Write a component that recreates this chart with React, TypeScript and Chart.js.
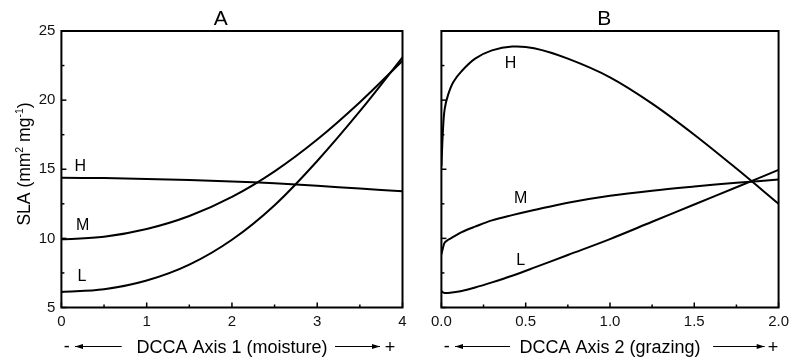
import React, { useEffect, useRef } from "react";
import { Chart, registerables } from "chart.js";

Chart.register(...registerables);

const FONT = "Arial, 'Liberation Sans', Helvetica, sans-serif";

// ---------- Panel A : DCCA Axis 1 (moisture) ----------
const xA = [0, 0.5, 1, 1.5, 2, 2.5, 3, 3.5, 4];
const hA = [14.38, 14.36, 14.3, 14.22, 14.12, 13.98, 13.8, 13.6, 13.4];
const mA = [9.93, 10.12, 10.68, 11.62, 13.0, 14.85, 17.15, 19.85, 22.85];
const lA = [6.13, 6.32, 6.95, 8.1, 9.9, 12.4, 15.6, 19.2, 23.1];

// ---------- Panel B : DCCA Axis 2 (grazing) ----------
const xB = [0, 0.01, 0.02, 0.04, 0.07, 0.12, 0.2, 0.3, 0.42, 0.55, 0.75, 1.0, 1.25, 1.5, 1.75, 2.0];
const hB = [15.2, 18.0, 19.4, 20.4, 21.3, 22.1, 23.0, 23.6, 23.87, 23.75, 23.0, 21.65, 19.75, 17.5, 15.05, 12.5];
const mB = [8.85, 9.35, 9.7, 9.9, 10.1, 10.45, 10.85, 11.3, 11.68, 12.05, 12.58, 13.08, 13.45, 13.75, 14.02, 14.25];
const lB = [6.2, 6.1, 6.05, 6.05, 6.1, 6.2, 6.45, 6.82, 7.3, 7.88, 8.8, 9.95, 11.2, 12.45, 13.7, 14.95];

const seriesNames = ["H", "M", "L"];

// curve label anchors, in data units
const labelPosA = [[0.22, 15.2], [0.25, 10.9], [0.24, 7.2]];
const labelPosB = [[0.41, 22.67], [0.47, 12.9], [0.47, 8.37]];

// axis ranges / ticks
const yMin = 5;
const yMax = 25;
const yStep = 2.5;
const xAMax = 4;
const xAStep = 0.5;
const xBMax = 2;
const xBStep = 0.25;

type PanelCfg = {
  title: string;
  titleX: number;
  xLabel: string;
  xs: number[];
  series: number[][];
  labels: number[][];
  xMax: number;
  xStep: number;
  isMajorX: (v: number) => boolean;
  fmtX: (v: number) => string;
  showYLabels: boolean;
  yWidth: number;
  padRight: number;
  canvasW: number;
  canvasLeft: number;
  minusDx: number;
  arrowL: [number, number];
  arrowR: [number, number];
  plusDx: number;
  yTitle: boolean;
};

const isMajorY = (v: number) => Math.abs(v / 5 - Math.round(v / 5)) < 1e-9;

function drawArrow(ctx: CanvasRenderingContext2D, x0: number, x1: number, y: number, tipAtStart: boolean) {
  ctx.beginPath();
  ctx.lineWidth = 1.2;
  ctx.moveTo(x0, y);
  ctx.lineTo(x1, y);
  ctx.stroke();
  const tip = tipAtStart ? x0 : x1;
  const dir = tipAtStart ? 1 : -1;
  ctx.beginPath();
  ctx.moveTo(tip, y);
  ctx.lineTo(tip + dir * 8, y - 2.6);
  ctx.lineTo(tip + dir * 8, y + 2.6);
  ctx.closePath();
  ctx.fill();
}

function makePlugin(cfg: PanelCfg) {
  return {
    id: "panelDeco",
    afterDraw(chart: any) {
      const ctx: CanvasRenderingContext2D = chart.ctx;
      const { left, right, top, bottom } = chart.chartArea;
      const xs = chart.scales.x;
      const ys = chart.scales.y;
      ctx.save();
      ctx.strokeStyle = "#000";
      ctx.fillStyle = "#000";

      // frame
      ctx.lineWidth = 2;
      ctx.strokeRect(left, top, right - left, bottom - top);

      // inward ticks
      ctx.lineWidth = 1.5;
      xs.ticks.forEach((t: any) => {
        const px = xs.getPixelForValue(t.value);
        const len = cfg.isMajorX(t.value) ? 5 : 3;
        ctx.beginPath();
        ctx.moveTo(px, bottom);
        ctx.lineTo(px, bottom - len);
        ctx.stroke();
      });
      ys.ticks.forEach((t: any) => {
        const py = ys.getPixelForValue(t.value);
        const len = isMajorY(t.value) ? 5 : 3;
        ctx.beginPath();
        ctx.moveTo(left, py);
        ctx.lineTo(left + len, py);
        ctx.stroke();
      });

      // panel title
      ctx.font = `21px ${FONT}`;
      ctx.textAlign = "center";
      ctx.textBaseline = "alphabetic";
      ctx.fillText(cfg.title, xs.getPixelForValue(cfg.titleX), top - 6);

      // curve labels
      ctx.font = `16px ${FONT}`;
      ctx.textBaseline = "middle";
      cfg.labels.forEach((p, i) => {
        ctx.fillText(seriesNames[i], xs.getPixelForValue(p[0]), ys.getPixelForValue(p[1]));
      });

      // x axis title with arrows
      const ly = 353;
      const ay = 346.5;
      ctx.font = `18px ${FONT}`;
      ctx.textBaseline = "alphabetic";
      ctx.textAlign = "center";
      ctx.fillText(cfg.xLabel, (left + right) / 2, ly);
      ctx.fillText("-", left + cfg.minusDx, ly - 1);
      ctx.fillText("+", right - cfg.plusDx, ly);
      drawArrow(ctx, left + cfg.arrowL[0], left + cfg.arrowL[1], ay, true);
      drawArrow(ctx, right - cfg.arrowR[0], right - cfg.arrowR[1], ay, false);

      // y axis title
      if (cfg.yTitle) {
        ctx.save();
        ctx.translate(30, 164);
        ctx.rotate(-Math.PI / 2);
        const big = `17.5px ${FONT}`;
        const small = `10.5px ${FONT}`;
        const parts: [string, boolean][] = [
          ["SLA (mm", false],
          ["2", true],
          [" mg", false],
          ["-1", true],
          [")", false],
        ];
        let total = 0;
        parts.forEach(([s, sup]) => {
          ctx.font = sup ? small : big;
          total += ctx.measureText(s).width;
        });
        let x = -total / 2;
        ctx.textAlign = "left";
        ctx.textBaseline = "alphabetic";
        parts.forEach(([s, sup]) => {
          ctx.font = sup ? small : big;
          ctx.fillText(s, x, sup ? -7.5 : 0);
          x += ctx.measureText(s).width;
        });
        ctx.restore();
      }
      ctx.restore();
    },
  };
}

function Panel({ cfg }: { cfg: PanelCfg }) {
  const ref = useRef<HTMLCanvasElement>(null);
  useEffect(() => {
    const canvas = ref.current!;
    const datasets = cfg.series.map((ys, i) => ({
      label: seriesNames[i],
      data: cfg.xs.map((x, j) => ({ x, y: ys[j] })),
      borderColor: "#000",
      borderWidth: 2,
      pointRadius: 0,
      fill: false,
      tension: 0.35,
    }));
    const chart = new Chart(canvas, {
      type: "line",
      data: { datasets },
      options: {
        animation: false,
        responsive: false,
        devicePixelRatio: 1,
        layout: { padding: { top: 31, right: cfg.padRight, left: 0, bottom: 0 } },
        plugins: { legend: { display: false }, tooltip: { enabled: false }, title: { display: false } },
        scales: {
          x: {
            type: "linear",
            min: 0,
            max: cfg.xMax,
            grid: { display: false, drawTicks: false },
            border: { display: false },
            ticks: {
              stepSize: cfg.xStep,
              autoSkip: false,
              maxRotation: 0,
              padding: 5,
              color: "#111",
              font: { family: FONT, size: 15 },
              callback: (v: any) => (cfg.isMajorX(Number(v)) ? cfg.fmtX(Number(v)) : ""),
            },
            afterFit: (s: any) => {
              s.height = 52.5;
            },
          },
          y: {
            type: "linear",
            min: yMin,
            max: yMax,
            grid: { display: false, drawTicks: false },
            border: { display: false },
            ticks: {
              stepSize: yStep,
              autoSkip: false,
              padding: 6,
              color: "#111",
              font: { family: FONT, size: 15 },
              callback: (v: any) => (cfg.showYLabels && isMajorY(Number(v)) ? String(v) : ""),
            },
            afterFit: (s: any) => {
              s.width = cfg.yWidth;
            },
          },
        },
      },
      plugins: [makePlugin(cfg)],
    });
    return () => chart.destroy();
  }, []);
  return (
    <canvas
      ref={ref}
      width={cfg.canvasW}
      height={360}
      style={{ position: "absolute", left: cfg.canvasLeft, top: 0, width: cfg.canvasW, height: 360 }}
    />
  );
}

const panelA: PanelCfg = {
  title: "A",
  titleX: 1.87,
  xLabel: "DCCA Axis 1 (moisture)",
  xs: xA,
  series: [hA, mA, lA],
  labels: labelPosA,
  xMax: xAMax,
  xStep: xAStep,
  isMajorX: (v) => Math.abs(v - Math.round(v)) < 1e-9,
  fmtX: (v) => String(Math.round(v)),
  showYLabels: true,
  yWidth: 61.4,
  padRight: 17.5,
  canvasW: 420,
  canvasLeft: 0,
  minusDx: 5.3,
  arrowL: [13.6, 60.3],
  arrowR: [67.5, 22.5],
  plusDx: 12.5,
  yTitle: true,
};

const panelB: PanelCfg = {
  title: "B",
  titleX: 0.966,
  xLabel: "DCCA Axis 2 (grazing)",
  xs: xB,
  series: [hB, mB, lB],
  labels: labelPosB,
  xMax: xBMax,
  xStep: xBStep,
  isMajorX: (v) => Math.abs(v * 2 - Math.round(v * 2)) < 1e-9,
  fmtX: (v) => v.toFixed(1),
  showYLabels: false,
  yWidth: 21.4,
  padRight: 11.8,
  canvasW: 374,
  canvasLeft: 420,
  minusDx: 5.3,
  arrowL: [13.6, 68.6],
  arrowR: [65.5, 13.9],
  plusDx: 5.5,
  yTitle: false,
};

export default function App() {
  return (
    <div style={{ position: "absolute", left: 0, top: 0, width: 794, height: 360, background: "#fff" }}>
      <Panel cfg={panelA} />
      <Panel cfg={panelB} />
    </div>
  );
}
